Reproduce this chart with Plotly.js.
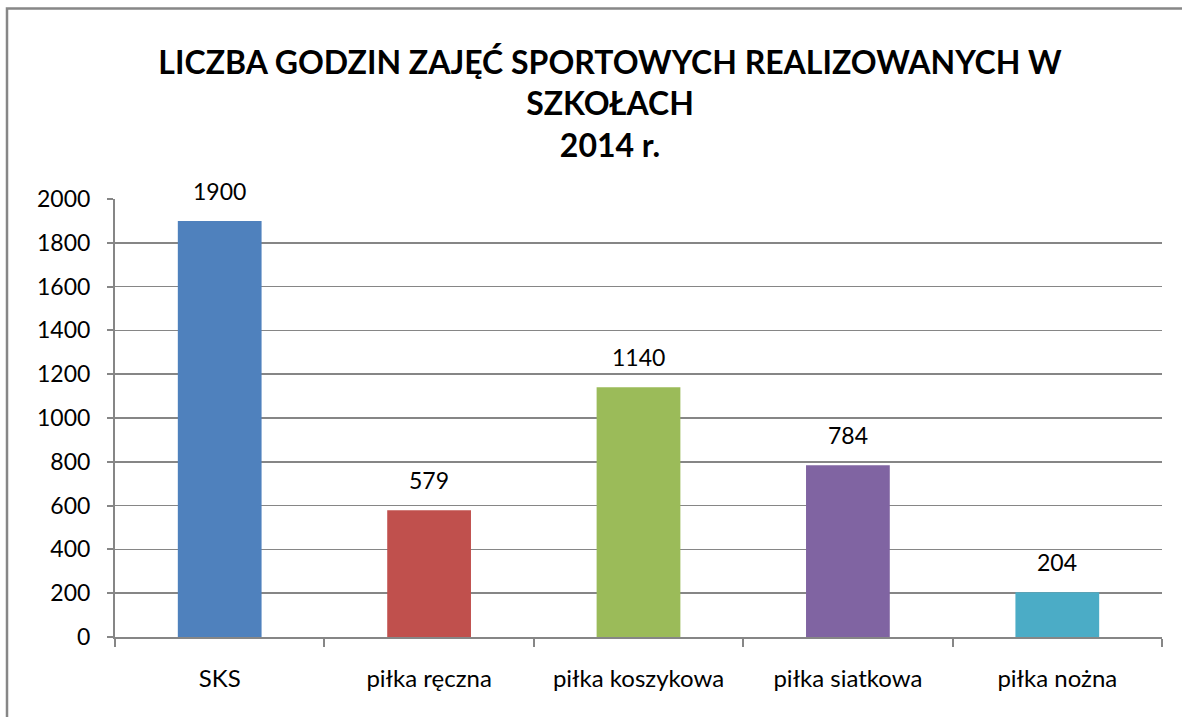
<!DOCTYPE html>
<html>
<head>
<meta charset="utf-8">
<script src="https://cdn.plot.ly/plotly-3.0.1.min.js"></script>
<style>html,body{margin:0;padding:0;background:#fff;}#chart{width:1182px;height:717px;}</style>
</head>
<body>
<div id="chart"></div>
<script>
const categories = ["SKS", "piłka ręczna", "piłka koszykowa", "piłka siatkowa", "piłka nożna"];
const values = [1900, 579, 1140, 784, 204];
const barColors = ["#4F81BD", "#C0504D", "#9BBB59", "#8064A2", "#4BACC6"];
const yTicks = [0, 200, 400, 600, 800, 1000, 1200, 1400, 1600, 1800, 2000];
const titleText = "LICZBA GODZIN ZAJĘĆ SPORTOWYCH REALIZOWANYCH W<br>SZKOŁACH<br>2014 r.";

const FONT = "Lato, 'Open Sans', sans-serif";
const gray = "#868686";

const trace = {
  type: "bar",
  x: categories,
  y: values,
  marker: {color: barColors},
  hoverinfo: "none"
};

const annotations = categories.map((c, i) => ({
  x: c, y: values[i], xref: "x", yref: "y",
  text: String(values[i]), showarrow: false,
  yanchor: "bottom", yshift: 14,
  font: {family: FONT, size: 23, color: "#000"}
}));

const L = 115, R = 20, T = 199, B = 80;
const W = 1182 - L - R, H = 717 - T - B;

const layout = {
  width: 1182, height: 717,
  margin: {l: L, r: R, t: T, b: B},
  paper_bgcolor: "#fff", plot_bgcolor: "#fff",
  bargap: 0.6,
  showlegend: false,
  title: {
    text: titleText,
    font: {family: FONT, size: 32, color: "#000", weight: "bold"},
    x: 610 / 1182, xref: "container", xanchor: "center",
    y: 0.897, yref: "container", yanchor: "top"
  },
  xaxis: {
    type: "category",
    showline: true, linecolor: gray, linewidth: 2,
    ticks: "outside", tickson: "boundaries", ticklen: 8, tickcolor: gray, tickwidth: 2,
    ticklabelstandoff: 19,
    tickfont: {family: FONT, size: 24, color: "#000"},
    showgrid: false
  },
  yaxis: {
    range: [0, 2000],
    tickvals: yTicks,
    showline: true, linecolor: gray, linewidth: 2,
    ticks: "outside", ticklen: 6, tickcolor: gray, tickwidth: 2,
    ticklabelstandoff: 12,
    tickfont: {family: FONT, size: 23, color: "#000"},
    showgrid: true, gridcolor: gray, gridwidth: 1.5,
    zeroline: false
  },
  annotations: annotations,
  shapes: [{
    type: "rect", xref: "paper", yref: "paper",
    x0: (7 - L) / W, x1: (1200 - L) / W,
    y0: (637 - 740) / H, y1: (637 - 8.5) / H,
    line: {color: "#878787", width: 2.5}, fillcolor: "rgba(0,0,0,0)", layer: "below"
  }]
};

Plotly.newPlot("chart", [trace], layout, {staticPlot: true, displayModeBar: false});
</script>
</body>
</html>
